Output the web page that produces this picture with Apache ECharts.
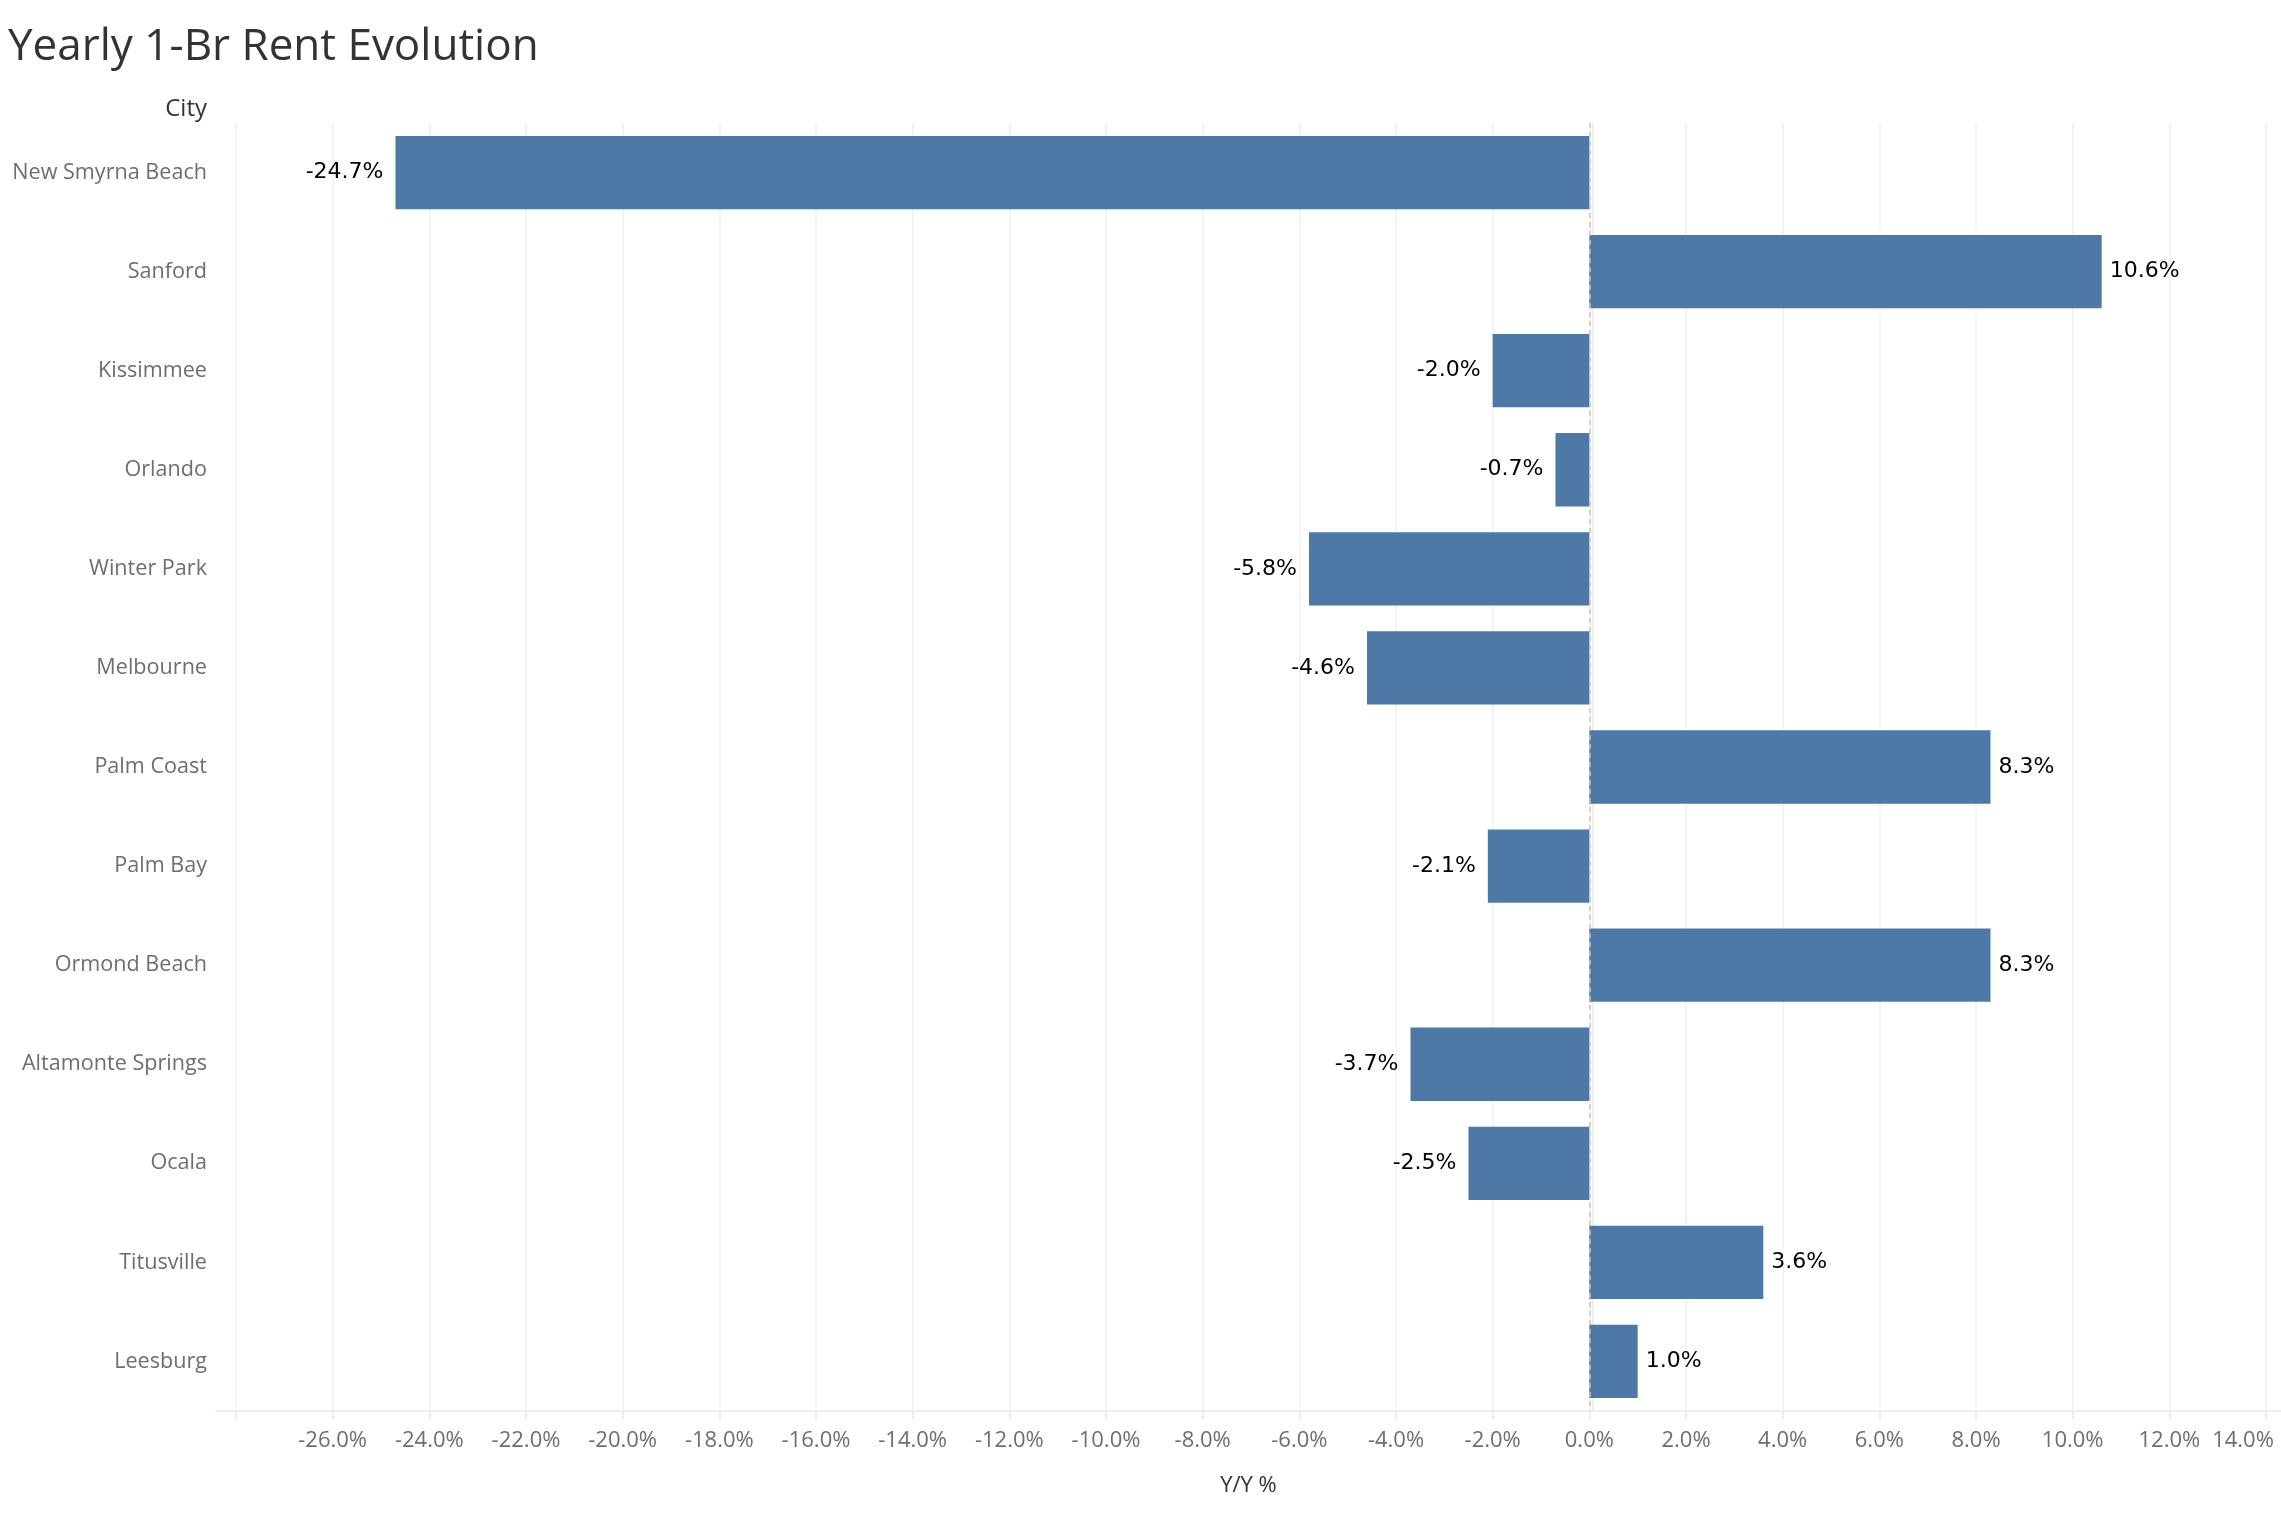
<!DOCTYPE html>
<html>
<head>
<meta charset="utf-8">
<script src="https://cdn.jsdelivr.net/npm/echarts@6/dist/echarts.min.js"></script>
<style>
  html, body { margin: 0; padding: 0; background: #ffffff; }
  #chart { width: 2281px; height: 1514px; }
</style>
</head>
<body>
<div id="chart"></div>
<script>
// ---- data ----
const cities = [
  'New Smyrna Beach', 'Sanford', 'Kissimmee', 'Orlando', 'Winter Park',
  'Melbourne', 'Palm Coast', 'Palm Bay', 'Ormond Beach', 'Altamonte Springs',
  'Ocala', 'Titusville', 'Leesburg'
];
const yoyPct = [-24.7, 10.6, -2.0, -0.7, -5.8, -4.6, 8.3, -2.1, 8.3, -3.7, -2.5, 3.6, 1.0];
const xMin = -28;
const xMax = 14;
const xStep = 2;

const FONT = '"Open Sans", "Noto Sans", sans-serif';
const LABEL_FONT = '"DejaVu Sans", "Open Sans", sans-serif';
const chart = echarts.init(document.getElementById('chart'));

const barData = yoyPct.map(v => ({
  value: v,
  label: v < 0 ? { position: 'left', distance: 12 } : { position: 'right', distance: 8 }
}));

chart.setOption({
  animation: false,
  backgroundColor: '#ffffff',
  title: {
    text: 'Yearly 1-Br Rent Evolution',
    left: 3, top: 20,
    textStyle: { fontFamily: FONT, fontSize: 44, fontWeight: 'normal', color: '#333333' }
  },
  graphic: [{
    type: 'text',
    right: 2281 - 207,
    top: 97,
    style: { text: 'City', font: '24px ' + FONT, fill: '#333333', textAlign: 'right' }
  }],
  grid: [
    { left: 236, right: 15, top: 123, bottom: 103, containLabel: false },
    { left: 216, right: 0, top: 123, bottom: 103, containLabel: false }
  ],
  xAxis: [{
    type: 'value', gridIndex: 0,
    min: xMin, max: xMax, interval: xStep,
    axisLine: { show: false },
    axisTick: { show: true, length: 8, lineStyle: { color: '#e8e8e8', width: 1.5 } },
    splitLine: { show: true, lineStyle: { color: '#f0f0f0', width: 1.5 } },
    axisLabel: {
      margin: 19,
      fontFamily: FONT, fontSize: 22, color: '#6e6e6e',
      formatter: function (v) {
        if (v === xMin) return '';
        const s = v.toFixed(1) + '%';
        if (v === xMax) return '{m|' + s + '}';
        return s;
      },
      rich: { m: { fontFamily: FONT, fontSize: 22, color: '#6e6e6e', padding: [0, 46, 0, 0] } }
    }
  }, {
    type: 'value', gridIndex: 1,
    min: xMin, max: xMax,
    name: 'Y/Y %', nameLocation: 'middle', nameGap: 64,
    nameTextStyle: { fontFamily: FONT, fontSize: 22, color: '#333333' },
    axisLine: { show: true, lineStyle: { color: '#eeeeee', width: 2 } },
    axisTick: { show: false },
    splitLine: { show: false },
    axisLabel: { show: false }
  }],
  yAxis: [{
    type: 'category', gridIndex: 0, inverse: true,
    data: cities,
    axisLine: { show: false },
    axisTick: { show: false },
    splitLine: { show: false },
    axisLabel: { margin: 29, fontFamily: FONT, fontSize: 21.6, color: '#6e6e6e', padding: [3, 0, 0, 0] }
  }, {
    type: 'category', gridIndex: 1, inverse: true,
    data: cities,
    axisLine: { show: true, lineStyle: { color: '#eeeeee', width: 2 } },
    axisTick: { show: false },
    axisLabel: { show: false }
  }],
  series: [{
    type: 'bar',
    xAxisIndex: 0, yAxisIndex: 0,
    data: barData,
    barWidth: '74%',
    itemStyle: { color: '#4e79a7' },
    label: {
      show: true,
      fontFamily: LABEL_FONT, fontSize: 22, color: '#000000',
      padding: [3, 0, 0, 0],
      formatter: p => p.value.toFixed(1) + '%'
    },
    markLine: {
      silent: true, symbol: 'none',
      label: { show: false },
      lineStyle: { type: [5, 4], color: '#c4c4c4', width: 1.5 },
      data: [{ xAxis: 0 }]
    }
  }]
});
</script>
</body>
</html>
